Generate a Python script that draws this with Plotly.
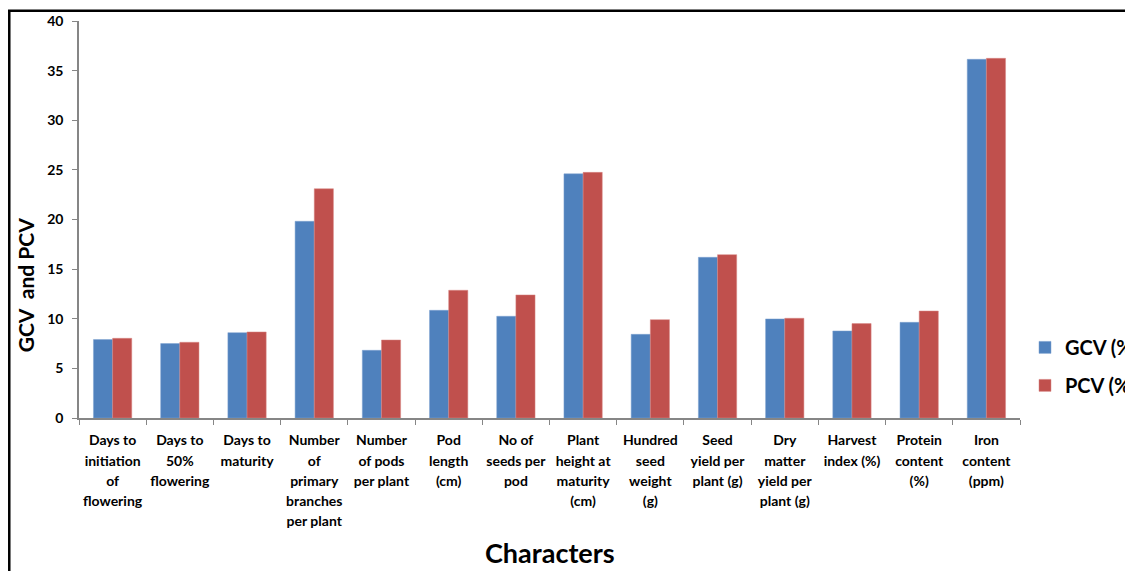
import plotly.graph_objects as go

categories = [
    "Days to initiation of flowering", "Days to 50% flowering", "Days to maturity",
    "Number of primary branches per plant", "Number of pods per plant", "Pod length (cm)",
    "No of seeds per pod", "Plant height at maturity (cm)", "Hundred seed weight (g)",
    "Seed yield per plant (g)", "Dry matter yield per plant (g)", "Harvest index (%)",
    "Protein content (%)", "Iron content (ppm)",
]
tick_labels = [
    "Days to<br>initiation<br>of<br>flowering", "Days to<br>50%<br>flowering", "Days to<br>maturity",
    "Number<br>of<br>primary<br>branches<br>per plant", "Number<br>of pods<br>per plant",
    "Pod<br>length<br>(cm)", "No of<br>seeds per<br>pod", "Plant<br>height at<br>maturity<br>(cm)",
    "Hundred<br>seed<br>weight<br>(g)", "Seed<br>yield per<br>plant (g)",
    "Dry<br>matter<br>yield per<br>plant (g)", "Harvest<br>index (%)",
    "Protein<br>content<br>(%)", "Iron<br>content<br>(ppm)",
]
gcv = [7.9, 7.5, 8.6, 19.82, 6.82, 10.85, 10.25, 24.6, 8.43, 16.19, 9.98, 8.77, 9.64, 36.14]
pcv = [8.03, 7.63, 8.67, 23.1, 7.86, 12.87, 12.4, 24.75, 9.91, 16.46, 10.05, 9.51, 10.78, 36.24]

FONT = "Lato"


def fmt_tick(label):
    return "<br>".join('<span style="font-size:14px"><b>%s</b></span>' % part
                       for part in label.split("<br>"))


fig = go.Figure()
fig.add_trace(go.Bar(x=categories, y=gcv, name="<b>GCV (%)</b>", legendgroup="g",
                     marker=dict(color="#4F81BD", line=dict(color="#7FA3D0", width=0.5))))
fig.add_trace(go.Bar(x=categories, y=pcv, name="<b>PCV (%)</b>", legendgroup="p",
                     marker=dict(color="#C0504D", line=dict(color="#D98987", width=0.5))))

fig.update_layout(
    width=1125, height=563,
    margin=dict(l=71, r=113, t=13, b=153, autoexpand=False),
    paper_bgcolor="white", plot_bgcolor="white",
    barmode="group", bargap=0.43, bargroupgap=0,
    font=dict(family=FONT, color="black"),
    showlegend=True,
    legend=dict(x=1.0053, y=0.13, xanchor="left", yanchor="middle",
                font=dict(family=FONT, size=20, color="black"),
                itemwidth=30, tracegroupgap=9),
    xaxis=dict(
        tickmode="array", tickvals=categories, ticktext=[fmt_tick(t) for t in tick_labels],
        tickson="boundaries", ticks="outside", ticklen=5, tickcolor="#868686",
        showline=True, linecolor="#868686", linewidth=2, showgrid=False,
        tickfont=dict(family=FONT, size=15.4, color="black"), tickangle=0,
        ticklabelstandoff=7, automargin=False,
    ),
    yaxis=dict(
        range=[0, 40], dtick=5, ticks="outside", ticklen=5, tickcolor="#868686",
        showline=True, linecolor="#868686", linewidth=1.5, showgrid=False, zeroline=False,
        tickfont=dict(family=FONT, size=14, color="black"),
        tickprefix="<b>", ticksuffix="</b>", ticklabelstandoff=6, automargin=False,
    ),
    annotations=[
        dict(text="<b>GCV  and PCV</b>", xref="paper", yref="paper",
             x=-0.057, y=0.335, textangle=-90, showarrow=False,
             font=dict(family=FONT, size=21, color="black"), xanchor="center", yanchor="middle"),
        dict(text="<b>Characters</b>", xref="paper", yref="paper",
             x=0.5, y=-0.34, showarrow=False,
             font=dict(family=FONT, size=27, color="black"), xanchor="center", yanchor="middle"),
    ],
    shapes=[
        dict(type="rect", xref="paper", yref="paper", x0=-0.0741, x1=1.3, y0=-0.6, y1=1.026,
             line=dict(color="black", width=2.5), fillcolor="rgba(0,0,0,0)", layer="below"),
    ],
)

fig.write_html("out.html")
